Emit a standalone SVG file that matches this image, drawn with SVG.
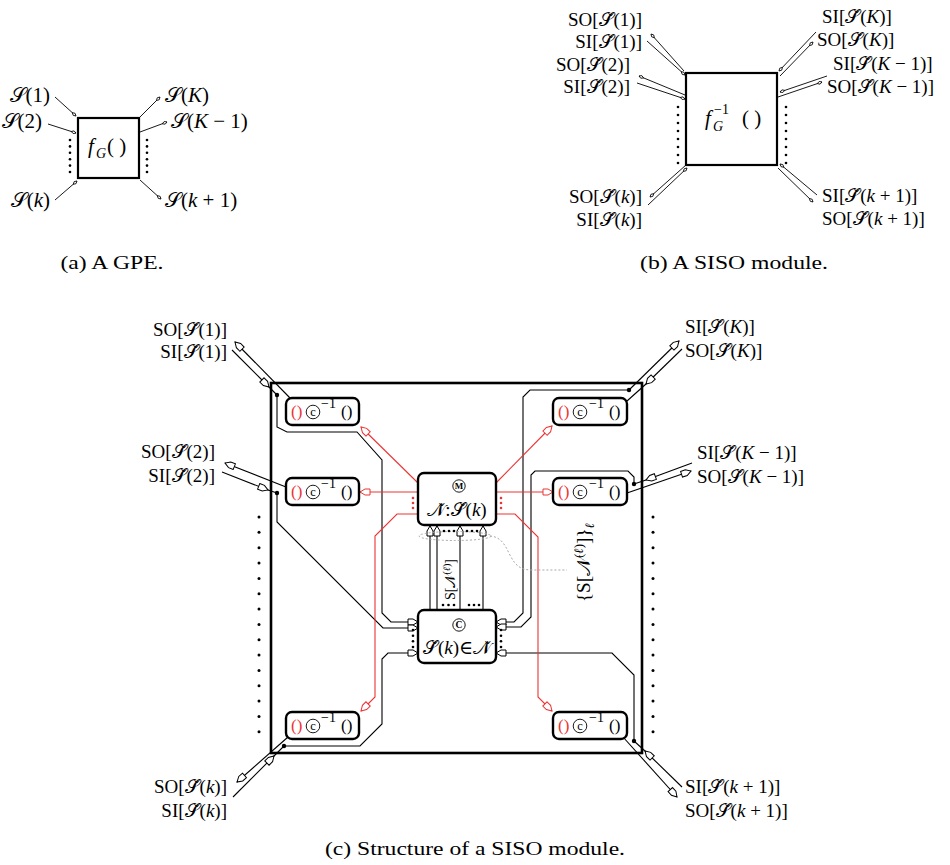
<svg xmlns="http://www.w3.org/2000/svg" width="950" height="865" viewBox="0 0 950 865">
<defs>
<style>
text{font-family:"Liberation Serif","DejaVu Serif",serif;fill:#000}
.l{font-size:19px}
.la{font-size:21px}
.i{font-style:italic}
.b{font-weight:bold}
.red{fill:#ec3434}
.w{fill:none;stroke:#000;stroke-width:1.1}
.wt{fill:none;stroke:#000;stroke-width:0.9}
.r{fill:none;stroke:#ec3434;stroke-width:1.1}
.bx{fill:#fff;stroke:#000;stroke-width:2.4}
.big{fill:none;stroke:#000;stroke-width:2.6}
.cc{fill:none;stroke:#000;stroke-width:0.9}
.gd{fill:none;stroke:#a8a8a8;stroke-width:1;stroke-dasharray:2 2}
</style>
<marker id="a" markerUnits="userSpaceOnUse" markerWidth="12" markerHeight="8" refX="0" refY="0" orient="auto" overflow="visible">
<path d="M-10,-3 L-5,-3 L0,0 L-5,3 L-10,3 Z" fill="#fff" stroke="#000" stroke-width="1"/>
</marker>
<marker id="ar" markerUnits="userSpaceOnUse" markerWidth="12" markerHeight="8" refX="0" refY="0" orient="auto" overflow="visible">
<path d="M-10,-3 L-5,-3 L0,0 L-5,3 L-10,3 Z" fill="#fff" stroke="#ec3434" stroke-width="1"/>
</marker>
<marker id="s" markerUnits="userSpaceOnUse" markerWidth="8" markerHeight="4" refX="0" refY="0" orient="auto" overflow="visible">
<path d="M-5,0 L-2.5,-1.4 L0,0 L-2.5,1.4 Z" fill="#fff" stroke="#000" stroke-width="0.8"/>
</marker>
</defs>
<rect width="950" height="865" fill="#fff"/>

<!-- ============ (a) ============ -->
<g id="a-connectors" class="wt">
<line x1="55" y1="97" x2="76" y2="116" marker-end="url(#s)"/>
<line x1="48" y1="124" x2="76" y2="133" marker-end="url(#s)"/>
<line x1="55" y1="200" x2="77" y2="181" marker-end="url(#s)"/>
<line x1="140" y1="117" x2="160" y2="97" marker-end="url(#s)"/>
<line x1="140" y1="132" x2="167" y2="122" marker-end="url(#s)"/>
<line x1="140" y1="180" x2="161" y2="199" marker-end="url(#s)"/>
</g>
<g id="gpe">
<rect x="78" y="118" width="61" height="60" fill="#fff" stroke="#000" stroke-width="2.2"/>
<text x="88" y="153" class="la i">f</text><text x="96" y="158" font-size="14" class="i">G</text><text x="107" y="153" class="la">( )</text>
</g>
<g id="a-dots">
<circle cx="70" cy="140" r="1.3"/><circle cx="70" cy="146.4" r="1.3"/><circle cx="70" cy="152.8" r="1.3"/><circle cx="70" cy="159.2" r="1.3"/><circle cx="70" cy="165.6" r="1.3"/><circle cx="70" cy="172" r="1.3"/>
<circle cx="147" cy="140" r="1.3"/><circle cx="147" cy="146.4" r="1.3"/><circle cx="147" cy="152.8" r="1.3"/><circle cx="147" cy="159.2" r="1.3"/><circle cx="147" cy="165.6" r="1.3"/><circle cx="147" cy="172" r="1.3"/>
</g>
<g id="a-labels" class="la">
<text x="50" y="102" text-anchor="end">𝒮(1)</text>
<text x="42" y="128" text-anchor="end">𝒮(2)</text>
<text x="50" y="207" text-anchor="end">𝒮(<tspan class="i">k</tspan>)</text>
<text x="165" y="102">𝒮(<tspan class="i">K</tspan>)</text>
<text x="171" y="128">𝒮(<tspan class="i">K</tspan> − 1)</text>
<text x="165" y="207">𝒮(<tspan class="i">k</tspan> + 1)</text>
</g>
<text x="112" y="269" font-size="19" text-anchor="middle" textLength="103" lengthAdjust="spacingAndGlyphs">(a) A GPE.</text>

<!-- ============ (b) ============ -->
<g id="b-connectors" class="wt">
<line x1="684" y1="71" x2="651" y2="34" marker-end="url(#s)"/>
<line x1="647" y1="41" x2="685" y2="75" marker-end="url(#s)"/>
<line x1="685" y1="95" x2="639" y2="76" marker-end="url(#s)"/>
<line x1="637" y1="83" x2="685" y2="99" marker-end="url(#s)"/>
<line x1="686" y1="165" x2="650" y2="197" marker-end="url(#s)"/>
<line x1="648" y1="205" x2="687" y2="168" marker-end="url(#s)"/>
<line x1="816" y1="32" x2="779" y2="71" marker-end="url(#s)"/>
<line x1="780" y1="76" x2="813" y2="42" marker-end="url(#s)"/>
<line x1="827" y1="76" x2="780" y2="92" marker-end="url(#s)"/>
<line x1="778" y1="97" x2="822" y2="82" marker-end="url(#s)"/>
<line x1="817" y1="195" x2="780" y2="164" marker-end="url(#s)"/>
<line x1="778" y1="168" x2="813" y2="202" marker-end="url(#s)"/>
</g>
<g id="siso">
<rect x="686" y="73" width="91" height="92" fill="#fff" stroke="#000" stroke-width="2.2"/>
<text x="705" y="125" class="la i">f</text><text x="714" y="114" font-size="14">−1</text><text x="713" y="131" font-size="14" class="i">G</text><text x="742" y="125" class="la">( )</text>
</g>
<g id="b-dots">
<circle cx="678" cy="107" r="1.3"/><circle cx="678" cy="115" r="1.3"/><circle cx="678" cy="123" r="1.3"/><circle cx="678" cy="131" r="1.3"/><circle cx="678" cy="139" r="1.3"/><circle cx="678" cy="147" r="1.3"/><circle cx="678" cy="155" r="1.3"/><circle cx="678" cy="163" r="1.3"/>
<circle cx="786" cy="107" r="1.3"/><circle cx="786" cy="115" r="1.3"/><circle cx="786" cy="123" r="1.3"/><circle cx="786" cy="131" r="1.3"/><circle cx="786" cy="139" r="1.3"/><circle cx="786" cy="147" r="1.3"/><circle cx="786" cy="155" r="1.3"/><circle cx="786" cy="163" r="1.3"/>
</g>
<g id="b-labels" class="l">
<text x="642" y="26" text-anchor="end">SO[𝒮̌(1)]</text>
<text x="642" y="48" text-anchor="end">SI[𝒮̌(1)]</text>
<text x="630" y="71" text-anchor="end">SO[𝒮̌(2)]</text>
<text x="630" y="93" text-anchor="end">SI[𝒮̌(2)]</text>
<text x="642" y="203" text-anchor="end">SO[𝒮̌(<tspan class="i">k</tspan>)]</text>
<text x="642" y="226" text-anchor="end">SI[𝒮̌(<tspan class="i">k</tspan>)]</text>
<text x="822" y="23">SI[𝒮̌(<tspan class="i">K</tspan>)]</text>
<text x="817" y="46">SO[𝒮̌(<tspan class="i">K</tspan>)]</text>
<text x="833" y="70">SI[𝒮̌(<tspan class="i">K</tspan> − 1)]</text>
<text x="827" y="93">SO[𝒮̌(<tspan class="i">K</tspan> − 1)]</text>
<text x="822" y="202">SI[𝒮̌(<tspan class="i">k</tspan> + 1)]</text>
<text x="822" y="225">SO[𝒮̌(<tspan class="i">k</tspan> + 1)]</text>
</g>
<text x="734" y="269" font-size="19" text-anchor="middle" textLength="188" lengthAdjust="spacingAndGlyphs">(b) A SISO module.</text>

<!-- ============ (c) ============ -->
<rect id="module-frame" x="271" y="383" width="371" height="370" class="big"/>
<g id="c-dots">
<circle cx="259" cy="517" r="1.5"/><circle cx="259" cy="532.3" r="1.5"/><circle cx="259" cy="547.7" r="1.5"/><circle cx="259" cy="563" r="1.5"/><circle cx="259" cy="578.4" r="1.5"/><circle cx="259" cy="593.7" r="1.5"/><circle cx="259" cy="609" r="1.5"/><circle cx="259" cy="624.4" r="1.5"/><circle cx="259" cy="639.7" r="1.5"/><circle cx="259" cy="655" r="1.5"/><circle cx="259" cy="670.4" r="1.5"/><circle cx="259" cy="685.7" r="1.5"/><circle cx="259" cy="701" r="1.5"/><circle cx="259" cy="716.4" r="1.5"/><circle cx="259" cy="731.7" r="1.5"/>
<circle cx="653" cy="517" r="1.5"/><circle cx="653" cy="532.3" r="1.5"/><circle cx="653" cy="547.7" r="1.5"/><circle cx="653" cy="563" r="1.5"/><circle cx="653" cy="578.4" r="1.5"/><circle cx="653" cy="593.7" r="1.5"/><circle cx="653" cy="609" r="1.5"/><circle cx="653" cy="624.4" r="1.5"/><circle cx="653" cy="639.7" r="1.5"/><circle cx="653" cy="655" r="1.5"/><circle cx="653" cy="670.4" r="1.5"/><circle cx="653" cy="685.7" r="1.5"/><circle cx="653" cy="701" r="1.5"/><circle cx="653" cy="716.4" r="1.5"/><circle cx="653" cy="731.7" r="1.5"/>
</g>

<g id="c-connectors">
<g class="w">
<!-- TL -->
<line x1="291" y1="399" x2="235" y2="342" marker-end="url(#a)"/>
<line x1="232" y1="350" x2="269" y2="387" marker-end="url(#a)"/>
<line x1="269" y1="387" x2="277" y2="395"/>
<path d="M277,395 V427 L287,432 H357 L382,460 V613 L391,622 H418" marker-end="url(#a)"/>
<!-- ML -->
<line x1="286" y1="487" x2="225" y2="463" marker-end="url(#a)"/>
<line x1="222" y1="472" x2="268" y2="490" marker-end="url(#a)"/>
<line x1="268" y1="490" x2="277" y2="493"/>
<path d="M277,493 V522 L383,628 H418" marker-end="url(#a)"/>
<!-- BL -->
<line x1="288" y1="737" x2="237" y2="782" marker-end="url(#a)"/>
<line x1="233" y1="797" x2="274" y2="756" marker-end="url(#a)"/>
<line x1="274" y1="756" x2="284" y2="746"/>
<path d="M284,746 H360 L382,724 V659 L388,653 H418" marker-end="url(#a)"/>
<!-- TR -->
<line x1="629" y1="390" x2="679" y2="341" marker-end="url(#a)"/>
<line x1="682" y1="349" x2="646" y2="384" marker-end="url(#a)"/>
<line x1="646" y1="384" x2="627" y2="401"/>
<path d="M629,390 H530 L523,397 V613 L514,622 H496" marker-end="url(#a)"/>
<!-- MR -->
<line x1="692" y1="463" x2="646" y2="480" marker-end="url(#a)"/>
<line x1="646" y1="480" x2="634" y2="484"/>
<line x1="627" y1="493" x2="691" y2="471" marker-end="url(#a)"/>
<path d="M634,484 V477 L628,471 H535 L531,475 V617 L521,627 H496" marker-end="url(#a)"/>
<!-- BR -->
<line x1="623" y1="737" x2="677" y2="797" marker-end="url(#a)"/>
<line x1="682" y1="787" x2="645" y2="751" marker-end="url(#a)"/>
<line x1="645" y1="751" x2="634" y2="741"/>
<path d="M634,741 V675 L612,653 H496" marker-end="url(#a)"/>
<!-- C to M -->
<line x1="430" y1="610" x2="430" y2="526" marker-end="url(#a)"/>
<line x1="437" y1="610" x2="437" y2="526" marker-end="url(#a)"/>
<line x1="460" y1="610" x2="460" y2="526" marker-end="url(#a)"/>
<line x1="483" y1="610" x2="483" y2="526" marker-end="url(#a)"/>
</g>
<g fill="#000">
<circle cx="277" cy="395" r="2.2"/><circle cx="277" cy="493" r="2.2"/><circle cx="284" cy="746" r="2.2"/>
<circle cx="629" cy="390" r="2.2"/><circle cx="634" cy="484" r="2.2"/><circle cx="634" cy="741" r="2.2"/>
</g>
<g class="r">
<path d="M418,483 L361,427" marker-end="url(#ar)"/>
<path d="M418,492 H360" marker-end="url(#ar)"/>
<path d="M496,483 L552,426" marker-end="url(#ar)"/>
<path d="M496,492 H553" marker-end="url(#ar)"/>
<path d="M418,514 H397 L375,536 V697 L361,711" marker-end="url(#ar)"/>
<path d="M496,514 H515 L538,537 V697 L552,711" marker-end="url(#ar)"/>
</g>
<ellipse cx="455" cy="536" rx="36" ry="4.5" class="gd"/>
<path d="M490,536 C503,537 506,548 511,557 C516,566 521,570 532,570 L567,570" class="gd"/>
</g>

<g id="c-smalldots">
<g fill="#ec3434"><circle cx="413" cy="498" r="1.3"/><circle cx="413" cy="503" r="1.3"/><circle cx="413" cy="508" r="1.3"/><circle cx="501" cy="498" r="1.3"/><circle cx="501" cy="503" r="1.3"/><circle cx="501" cy="508" r="1.3"/></g>
<g fill="#000"><circle cx="413" cy="630" r="1.3"/><circle cx="413" cy="635.7" r="1.3"/><circle cx="413" cy="641.3" r="1.3"/><circle cx="413" cy="647" r="1.3"/><circle cx="501" cy="630" r="1.3"/><circle cx="501" cy="635.7" r="1.3"/><circle cx="501" cy="641.3" r="1.3"/><circle cx="501" cy="647" r="1.3"/>
<circle cx="444" cy="531" r="1.3"/><circle cx="449" cy="531" r="1.3"/><circle cx="454" cy="531" r="1.3"/><circle cx="467" cy="531" r="1.3"/><circle cx="472" cy="531" r="1.3"/><circle cx="477" cy="531" r="1.3"/>
<circle cx="443" cy="605" r="1.3"/><circle cx="448.5" cy="605" r="1.3"/><circle cx="454" cy="605" r="1.3"/><circle cx="469" cy="605" r="1.3"/><circle cx="474" cy="605" r="1.3"/><circle cx="479" cy="605" r="1.3"/></g>
</g>

<g id="tl" transform="translate(286,398)">
<rect width="73" height="27" rx="6" class="bx"/>
<text x="5" y="19" font-size="17" class="red">()</text>
<circle cx="27" cy="14" r="6.8" class="cc"/><text x="27" y="18" font-size="12.5" text-anchor="middle">c</text>
<text x="35" y="10" font-size="14">−1</text>
<text x="55" y="19" font-size="17">()</text>
</g>
<g id="ml" transform="translate(286,478)">
<rect width="73" height="27" rx="6" class="bx"/>
<text x="5" y="19" font-size="17" class="red">()</text>
<circle cx="27" cy="14" r="6.8" class="cc"/><text x="27" y="18" font-size="12.5" text-anchor="middle">c</text>
<text x="35" y="10" font-size="14">−1</text>
<text x="55" y="19" font-size="17">()</text>
</g>
<g id="bl" transform="translate(286,712)">
<rect width="73" height="27" rx="6" class="bx"/>
<text x="5" y="19" font-size="17" class="red">()</text>
<circle cx="27" cy="14" r="6.8" class="cc"/><text x="27" y="18" font-size="12.5" text-anchor="middle">c</text>
<text x="35" y="10" font-size="14">−1</text>
<text x="55" y="19" font-size="17">()</text>
</g>
<g id="tr" transform="translate(553,398)">
<rect width="74" height="27" rx="6" class="bx"/>
<text x="5" y="19" font-size="17" class="red">()</text>
<circle cx="27" cy="14" r="6.8" class="cc"/><text x="27" y="18" font-size="12.5" text-anchor="middle">c</text>
<text x="36" y="10" font-size="14">−1</text>
<text x="56" y="19" font-size="17">()</text>
</g>
<g id="mr" transform="translate(553,478)">
<rect width="74" height="27" rx="6" class="bx"/>
<text x="5" y="19" font-size="17" class="red">()</text>
<circle cx="27" cy="14" r="6.8" class="cc"/><text x="27" y="18" font-size="12.5" text-anchor="middle">c</text>
<text x="36" y="10" font-size="14">−1</text>
<text x="56" y="19" font-size="17">()</text>
</g>
<g id="br" transform="translate(553,712)">
<rect width="74" height="27" rx="6" class="bx"/>
<text x="5" y="19" font-size="17" class="red">()</text>
<circle cx="27" cy="14" r="6.8" class="cc"/><text x="27" y="18" font-size="12.5" text-anchor="middle">c</text>
<text x="36" y="10" font-size="14">−1</text>
<text x="56" y="19" font-size="17">()</text>
</g>

<g id="mbox">
<rect x="418" y="473" width="78" height="52" rx="6" class="bx"/>
<circle cx="459" cy="486" r="6.2" class="cc"/><text x="459" y="489.2" font-size="9" class="b" text-anchor="middle">M</text>
<text x="457" y="516" class="l" text-anchor="middle">𝒩̌:𝒮̌(<tspan class="i">k</tspan>)</text>
</g>
<g id="cbox">
<rect x="418" y="610" width="78" height="53" rx="6" class="bx"/>
<circle cx="459" cy="625" r="6.2" class="cc"/><text x="459" y="628.4" font-size="9.5" class="b" text-anchor="middle">C</text>
<text x="457" y="654" class="l" text-anchor="middle">𝒮̌(<tspan class="i">k</tspan>)∈𝒩̌</text>
</g>

<g id="c-labels" class="l">
<text x="227" y="336" text-anchor="end">SO[𝒮̌(1)]</text>
<text x="227" y="358" text-anchor="end">SI[𝒮̌(1)]</text>
<text x="215" y="458" text-anchor="end">SO[𝒮̌(2)]</text>
<text x="215" y="482" text-anchor="end">SI[𝒮̌(2)]</text>
<text x="227" y="793" text-anchor="end">SO[𝒮̌(<tspan class="i">k</tspan>)]</text>
<text x="227" y="817" text-anchor="end">SI[𝒮̌(<tspan class="i">k</tspan>)]</text>
<text x="685" y="333">SI[𝒮̌(<tspan class="i">K</tspan>)]</text>
<text x="685" y="357">SO[𝒮̌(<tspan class="i">K</tspan>)]</text>
<text x="697" y="459">SI[𝒮̌(<tspan class="i">K</tspan> − 1)]</text>
<text x="697" y="483">SO[𝒮̌(<tspan class="i">K</tspan> − 1)]</text>
<text x="685" y="793">SI[𝒮̌(<tspan class="i">k</tspan> + 1)]</text>
<text x="685" y="817">SO[𝒮̌(<tspan class="i">k</tspan> + 1)]</text>
</g>
<text transform="translate(455,600) rotate(-90)" font-size="14">S[𝒩<tspan dy="-5" font-size="10">(<tspan class="i">ℓ</tspan>)</tspan><tspan dy="5">]</tspan></text>
<text transform="translate(590,602) rotate(-90)" font-size="19">{S[𝒩<tspan dy="-7" font-size="13">(<tspan class="i">ℓ</tspan>)</tspan><tspan dy="7">]}</tspan><tspan dy="4" font-size="13" class="i">ℓ</tspan></text>

<text x="475" y="855" font-size="19" text-anchor="middle" textLength="300" lengthAdjust="spacingAndGlyphs">(c) Structure of a SISO module.</text>
</svg>
